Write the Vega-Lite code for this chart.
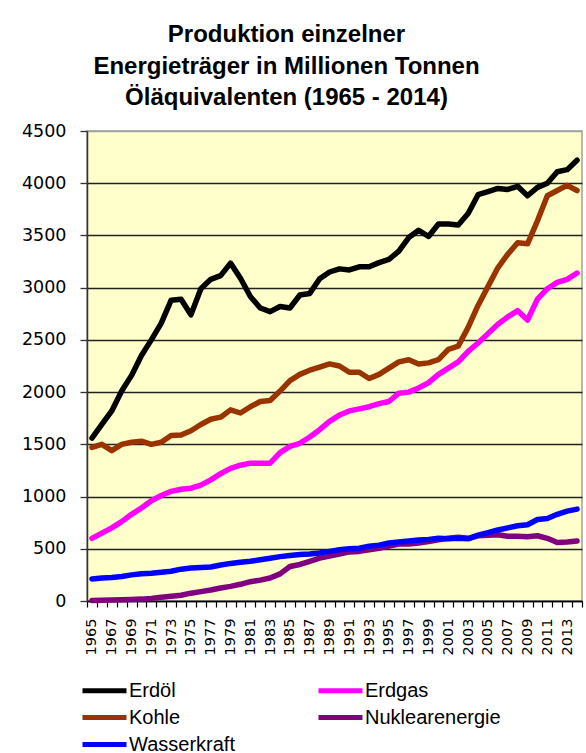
{
"$schema": "https://vega.github.io/schema/vega-lite/v6.json",
"width": 495, "height": 470,
"autosize": {"type": "none"},
"padding": {"left": 87, "top": 131, "right": 4, "bottom": 152},
"background": "white",
"title": {"text": ["Produktion einzelner", "Energieträger in Millionen Tonnen", "Öläquivalenten (1965 - 2014)"], "font": "Liberation Sans", "fontSize": 24, "fontWeight": "bold", "color": "black", "lineHeight": 31.5, "anchor": "middle", "frame": "group", "dx": -48, "dy": 30, "baseline": "alphabetic", "offset": 23},
"config": {"view": {"fill": "#FFFFCC", "stroke": "#A0A0A0", "strokeWidth": 1.5}},
"data": {"values": [
{"J":1965,"Q":"Erdöl","W":1560},{"J":1966,"Q":"Erdöl","W":1690},{"J":1967,"Q":"Erdöl","W":1820},{"J":1968,"Q":"Erdöl","W":2010},{"J":1969,"Q":"Erdöl","W":2160},{"J":1970,"Q":"Erdöl","W":2350},{"J":1971,"Q":"Erdöl","W":2500},{"J":1972,"Q":"Erdöl","W":2660},{"J":1973,"Q":"Erdöl","W":2880},{"J":1974,"Q":"Erdöl","W":2890},{"J":1975,"Q":"Erdöl","W":2740},{"J":1976,"Q":"Erdöl","W":2990},{"J":1977,"Q":"Erdöl","W":3080},{"J":1978,"Q":"Erdöl","W":3115},{"J":1979,"Q":"Erdöl","W":3235},{"J":1980,"Q":"Erdöl","W":3090},{"J":1981,"Q":"Erdöl","W":2915},{"J":1982,"Q":"Erdöl","W":2805},{"J":1983,"Q":"Erdöl","W":2770},{"J":1984,"Q":"Erdöl","W":2820},{"J":1985,"Q":"Erdöl","W":2805},{"J":1986,"Q":"Erdöl","W":2930},{"J":1987,"Q":"Erdöl","W":2945},{"J":1988,"Q":"Erdöl","W":3085},{"J":1989,"Q":"Erdöl","W":3150},{"J":1990,"Q":"Erdöl","W":3180},{"J":1991,"Q":"Erdöl","W":3170},{"J":1992,"Q":"Erdöl","W":3200},{"J":1993,"Q":"Erdöl","W":3200},{"J":1994,"Q":"Erdöl","W":3240},{"J":1995,"Q":"Erdöl","W":3270},{"J":1996,"Q":"Erdöl","W":3350},{"J":1997,"Q":"Erdöl","W":3480},{"J":1998,"Q":"Erdöl","W":3550},{"J":1999,"Q":"Erdöl","W":3490},{"J":2000,"Q":"Erdöl","W":3610},{"J":2001,"Q":"Erdöl","W":3610},{"J":2002,"Q":"Erdöl","W":3600},{"J":2003,"Q":"Erdöl","W":3710},{"J":2004,"Q":"Erdöl","W":3890},{"J":2005,"Q":"Erdöl","W":3920},{"J":2006,"Q":"Erdöl","W":3950},{"J":2007,"Q":"Erdöl","W":3940},{"J":2008,"Q":"Erdöl","W":3970},{"J":2009,"Q":"Erdöl","W":3880},{"J":2010,"Q":"Erdöl","W":3960},{"J":2011,"Q":"Erdöl","W":4000},{"J":2012,"Q":"Erdöl","W":4110},{"J":2013,"Q":"Erdöl","W":4130},{"J":2014,"Q":"Erdöl","W":4220},
{"J":1965,"Q":"Erdgas","W":600},{"J":1966,"Q":"Erdgas","W":650},{"J":1967,"Q":"Erdgas","W":700},{"J":1968,"Q":"Erdgas","W":760},{"J":1969,"Q":"Erdgas","W":830},{"J":1970,"Q":"Erdgas","W":890},{"J":1971,"Q":"Erdgas","W":960},{"J":1972,"Q":"Erdgas","W":1010},{"J":1973,"Q":"Erdgas","W":1050},{"J":1974,"Q":"Erdgas","W":1070},{"J":1975,"Q":"Erdgas","W":1080},{"J":1976,"Q":"Erdgas","W":1110},{"J":1977,"Q":"Erdgas","W":1160},{"J":1978,"Q":"Erdgas","W":1220},{"J":1979,"Q":"Erdgas","W":1270},{"J":1980,"Q":"Erdgas","W":1300},{"J":1981,"Q":"Erdgas","W":1320},{"J":1982,"Q":"Erdgas","W":1320},{"J":1983,"Q":"Erdgas","W":1320},{"J":1984,"Q":"Erdgas","W":1420},{"J":1985,"Q":"Erdgas","W":1480},{"J":1986,"Q":"Erdgas","W":1510},{"J":1987,"Q":"Erdgas","W":1570},{"J":1988,"Q":"Erdgas","W":1640},{"J":1989,"Q":"Erdgas","W":1720},{"J":1990,"Q":"Erdgas","W":1780},{"J":1991,"Q":"Erdgas","W":1820},{"J":1992,"Q":"Erdgas","W":1840},{"J":1993,"Q":"Erdgas","W":1860},{"J":1994,"Q":"Erdgas","W":1890},{"J":1995,"Q":"Erdgas","W":1910},{"J":1996,"Q":"Erdgas","W":1990},{"J":1997,"Q":"Erdgas","W":2000},{"J":1998,"Q":"Erdgas","W":2040},{"J":1999,"Q":"Erdgas","W":2090},{"J":2000,"Q":"Erdgas","W":2170},{"J":2001,"Q":"Erdgas","W":2230},{"J":2002,"Q":"Erdgas","W":2290},{"J":2003,"Q":"Erdgas","W":2390},{"J":2004,"Q":"Erdgas","W":2470},{"J":2005,"Q":"Erdgas","W":2560},{"J":2006,"Q":"Erdgas","W":2650},{"J":2007,"Q":"Erdgas","W":2720},{"J":2008,"Q":"Erdgas","W":2780},{"J":2009,"Q":"Erdgas","W":2690},{"J":2010,"Q":"Erdgas","W":2890},{"J":2011,"Q":"Erdgas","W":2990},{"J":2012,"Q":"Erdgas","W":3050},{"J":2013,"Q":"Erdgas","W":3080},{"J":2014,"Q":"Erdgas","W":3140},
{"J":1965,"Q":"Kohle","W":1470},{"J":1966,"Q":"Kohle","W":1500},{"J":1967,"Q":"Kohle","W":1440},{"J":1968,"Q":"Kohle","W":1500},{"J":1969,"Q":"Kohle","W":1520},{"J":1970,"Q":"Kohle","W":1530},{"J":1971,"Q":"Kohle","W":1500},{"J":1972,"Q":"Kohle","W":1520},{"J":1973,"Q":"Kohle","W":1585},{"J":1974,"Q":"Kohle","W":1590},{"J":1975,"Q":"Kohle","W":1630},{"J":1976,"Q":"Kohle","W":1690},{"J":1977,"Q":"Kohle","W":1740},{"J":1978,"Q":"Kohle","W":1760},{"J":1979,"Q":"Kohle","W":1830},{"J":1980,"Q":"Kohle","W":1800},{"J":1981,"Q":"Kohle","W":1860},{"J":1982,"Q":"Kohle","W":1910},{"J":1983,"Q":"Kohle","W":1920},{"J":1984,"Q":"Kohle","W":2010},{"J":1985,"Q":"Kohle","W":2110},{"J":1986,"Q":"Kohle","W":2170},{"J":1987,"Q":"Kohle","W":2210},{"J":1988,"Q":"Kohle","W":2240},{"J":1989,"Q":"Kohle","W":2270},{"J":1990,"Q":"Kohle","W":2250},{"J":1991,"Q":"Kohle","W":2190},{"J":1992,"Q":"Kohle","W":2190},{"J":1993,"Q":"Kohle","W":2130},{"J":1994,"Q":"Kohle","W":2170},{"J":1995,"Q":"Kohle","W":2230},{"J":1996,"Q":"Kohle","W":2290},{"J":1997,"Q":"Kohle","W":2310},{"J":1998,"Q":"Kohle","W":2270},{"J":1999,"Q":"Kohle","W":2280},{"J":2000,"Q":"Kohle","W":2310},{"J":2001,"Q":"Kohle","W":2410},{"J":2002,"Q":"Kohle","W":2440},{"J":2003,"Q":"Kohle","W":2620},{"J":2004,"Q":"Kohle","W":2830},{"J":2005,"Q":"Kohle","W":3010},{"J":2006,"Q":"Kohle","W":3190},{"J":2007,"Q":"Kohle","W":3320},{"J":2008,"Q":"Kohle","W":3430},{"J":2009,"Q":"Kohle","W":3420},{"J":2010,"Q":"Kohle","W":3640},{"J":2011,"Q":"Kohle","W":3880},{"J":2012,"Q":"Kohle","W":3930},{"J":2013,"Q":"Kohle","W":3980},{"J":2014,"Q":"Kohle","W":3930},
{"J":1965,"Q":"Nuklearenergie","W":5},{"J":1966,"Q":"Nuklearenergie","W":8},{"J":1967,"Q":"Nuklearenergie","W":10},{"J":1968,"Q":"Nuklearenergie","W":12},{"J":1969,"Q":"Nuklearenergie","W":15},{"J":1970,"Q":"Nuklearenergie","W":18},{"J":1971,"Q":"Nuklearenergie","W":25},{"J":1972,"Q":"Nuklearenergie","W":35},{"J":1973,"Q":"Nuklearenergie","W":45},{"J":1974,"Q":"Nuklearenergie","W":55},{"J":1975,"Q":"Nuklearenergie","W":75},{"J":1976,"Q":"Nuklearenergie","W":90},{"J":1977,"Q":"Nuklearenergie","W":105},{"J":1978,"Q":"Nuklearenergie","W":125},{"J":1979,"Q":"Nuklearenergie","W":140},{"J":1980,"Q":"Nuklearenergie","W":160},{"J":1981,"Q":"Nuklearenergie","W":185},{"J":1982,"Q":"Nuklearenergie","W":200},{"J":1983,"Q":"Nuklearenergie","W":220},{"J":1984,"Q":"Nuklearenergie","W":260},{"J":1985,"Q":"Nuklearenergie","W":330},{"J":1986,"Q":"Nuklearenergie","W":350},{"J":1987,"Q":"Nuklearenergie","W":380},{"J":1988,"Q":"Nuklearenergie","W":410},{"J":1989,"Q":"Nuklearenergie","W":430},{"J":1990,"Q":"Nuklearenergie","W":450},{"J":1991,"Q":"Nuklearenergie","W":470},{"J":1992,"Q":"Nuklearenergie","W":475},{"J":1993,"Q":"Nuklearenergie","W":490},{"J":1994,"Q":"Nuklearenergie","W":505},{"J":1995,"Q":"Nuklearenergie","W":525},{"J":1996,"Q":"Nuklearenergie","W":545},{"J":1997,"Q":"Nuklearenergie","W":545},{"J":1998,"Q":"Nuklearenergie","W":555},{"J":1999,"Q":"Nuklearenergie","W":570},{"J":2000,"Q":"Nuklearenergie","W":585},{"J":2001,"Q":"Nuklearenergie","W":600},{"J":2002,"Q":"Nuklearenergie","W":610},{"J":2003,"Q":"Nuklearenergie","W":600},{"J":2004,"Q":"Nuklearenergie","W":625},{"J":2005,"Q":"Nuklearenergie","W":630},{"J":2006,"Q":"Nuklearenergie","W":635},{"J":2007,"Q":"Nuklearenergie","W":620},{"J":2008,"Q":"Nuklearenergie","W":620},{"J":2009,"Q":"Nuklearenergie","W":615},{"J":2010,"Q":"Nuklearenergie","W":625},{"J":2011,"Q":"Nuklearenergie","W":600},{"J":2012,"Q":"Nuklearenergie","W":560},{"J":2013,"Q":"Nuklearenergie","W":565},{"J":2014,"Q":"Nuklearenergie","W":575},
{"J":1965,"Q":"Wasserkraft","W":210},{"J":1966,"Q":"Wasserkraft","W":220},{"J":1967,"Q":"Wasserkraft","W":225},{"J":1968,"Q":"Wasserkraft","W":235},{"J":1969,"Q":"Wasserkraft","W":250},{"J":1970,"Q":"Wasserkraft","W":260},{"J":1971,"Q":"Wasserkraft","W":265},{"J":1972,"Q":"Wasserkraft","W":275},{"J":1973,"Q":"Wasserkraft","W":285},{"J":1974,"Q":"Wasserkraft","W":305},{"J":1975,"Q":"Wasserkraft","W":315},{"J":1976,"Q":"Wasserkraft","W":320},{"J":1977,"Q":"Wasserkraft","W":325},{"J":1978,"Q":"Wasserkraft","W":345},{"J":1979,"Q":"Wasserkraft","W":360},{"J":1980,"Q":"Wasserkraft","W":370},{"J":1981,"Q":"Wasserkraft","W":380},{"J":1982,"Q":"Wasserkraft","W":395},{"J":1983,"Q":"Wasserkraft","W":410},{"J":1984,"Q":"Wasserkraft","W":425},{"J":1985,"Q":"Wasserkraft","W":435},{"J":1986,"Q":"Wasserkraft","W":445},{"J":1987,"Q":"Wasserkraft","W":450},{"J":1988,"Q":"Wasserkraft","W":460},{"J":1989,"Q":"Wasserkraft","W":475},{"J":1990,"Q":"Wasserkraft","W":490},{"J":1991,"Q":"Wasserkraft","W":500},{"J":1992,"Q":"Wasserkraft","W":505},{"J":1993,"Q":"Wasserkraft","W":525},{"J":1994,"Q":"Wasserkraft","W":535},{"J":1995,"Q":"Wasserkraft","W":555},{"J":1996,"Q":"Wasserkraft","W":565},{"J":1997,"Q":"Wasserkraft","W":575},{"J":1998,"Q":"Wasserkraft","W":585},{"J":1999,"Q":"Wasserkraft","W":590},{"J":2000,"Q":"Wasserkraft","W":600},{"J":2001,"Q":"Wasserkraft","W":595},{"J":2002,"Q":"Wasserkraft","W":600},{"J":2003,"Q":"Wasserkraft","W":595},{"J":2004,"Q":"Wasserkraft","W":630},{"J":2005,"Q":"Wasserkraft","W":655},{"J":2006,"Q":"Wasserkraft","W":680},{"J":2007,"Q":"Wasserkraft","W":700},{"J":2008,"Q":"Wasserkraft","W":720},{"J":2009,"Q":"Wasserkraft","W":730},{"J":2010,"Q":"Wasserkraft","W":780},{"J":2011,"Q":"Wasserkraft","W":790},{"J":2012,"Q":"Wasserkraft","W":830},{"J":2013,"Q":"Wasserkraft","W":860},{"J":2014,"Q":"Wasserkraft","W":880}
]},
"mark": {"type": "line", "strokeWidth": 5.5, "strokeCap": "round", "strokeJoin": "round"},
"encoding": {
"x": {"field": "J", "type": "ordinal", "scale": {"type": "band", "paddingInner": 0, "paddingOuter": 0},
  "axis": {"title": null, "labelAngle": 270, "labelFont": "DejaVu Sans", "labelFontSize": 14.5, "labelColor": "black", "labelPadding": 11, "tickSize": 6, "tickColor": "black", "tickWidth": 1.2, "tickBand": "extent", "domainColor": "black", "domainWidth": 1.5, "grid": false, "labelOverlap": false, "labelExpr": "datum.value % 2 == 1 ? datum.label : ''"}},
"y": {"field": "W", "type": "quantitative", "scale": {"domain": [0, 4500]},
  "axis": {"title": null, "format": "d", "values": [0,500,1000,1500,2000,2500,3000,3500,4000,4500], "labelFont": "DejaVu Sans", "labelFontSize": 17.5, "labelColor": "black", "labelPadding": 14, "tickSize": 7, "tickColor": "#333333", "tickWidth": 1.3, "domainColor": "#333333", "domainWidth": 1.5, "grid": true, "gridColor": {"condition": {"test": "datum.value == 4500", "value": "#A0A0A0"}, "value": "#222222"}, "gridWidth": 1.4, "gridOpacity": 1}},
"color": {"field": "Q", "type": "nominal",
  "scale": {"domain": ["Erdöl", "Erdgas", "Kohle", "Nuklearenergie", "Wasserkraft"], "range": ["#000000", "#FF00FF", "#993300", "#800080", "#0000FF"]},
  "legend": {"title": null, "orient": "none", "legendX": 1, "legendY": 543, "direction": "horizontal", "columns": 2, "symbolType": "M-1.6,0H1.6", "symbolSize": 756, "symbolStrokeWidth": 5, "labelFont": "Liberation Sans", "labelFontSize": 20, "labelColor": "black", "labelOffset": 8, "columnPadding": 73, "rowPadding": 0, "padding": 0, "labelLimit": 300}}
}
}
